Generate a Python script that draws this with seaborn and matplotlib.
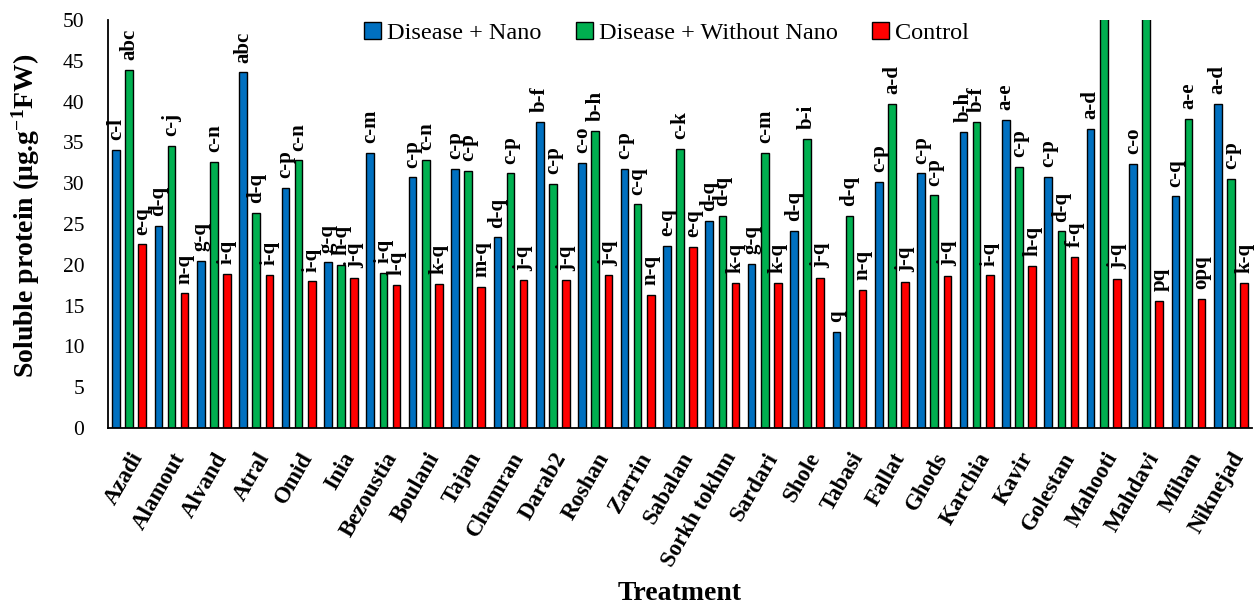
import matplotlib
matplotlib.use("Agg")
import matplotlib.pyplot as plt
import numpy as np
import pandas as pd
import seaborn as sns

cats = ["Azadi", "Alamout", "Alvand", "Atral", "Omid", "Inia", "Bezoustia", "Boulani", "Tajan",
        "Chamran", "Darab2", "Roshan", "Zarrin", "Sabalan", "Sorkh tokhm", "Sardari", "Shole",
        "Tabasi", "Fallat", "Ghods", "Karchia", "Kavir", "Golestan", "Mahooti", "Mahdavi",
        "Mihan", "Niknejad"]

nano = [34.1, 24.8, 20.5, 43.6, 29.4, 20.3, 33.75, 30.7, 31.75, 23.35, 37.5, 32.45, 31.8,
        22.35, 25.4, 20.1, 24.2, 11.8, 30.2, 31.2, 36.3, 37.8, 30.8, 36.7, 32.4, 28.4, 39.7]
without_nano = [43.9, 34.6, 32.6, 26.4, 32.8, 20.0, 19.05, 32.9, 31.55, 31.2, 29.9, 36.4, 27.4,
                34.2, 26.0, 33.75, 35.4, 26.0, 39.7, 28.5, 37.55, 32.0, 24.1, 52.0, 52.0, 37.9, 30.5]
control = [22.5, 16.5, 18.9, 18.8, 17.95, 18.4, 17.55, 17.7, 17.25, 18.1, 18.1, 18.7, 16.3,
           22.2, 17.8, 17.75, 18.4, 16.9, 17.9, 18.6, 18.7, 19.9, 21.0, 18.3, 15.6, 15.8, 17.8]

nano_letters = ["c-l", "d-q", "g-q", "abc", "c-p", "g-q", "c-m", "c-p", "c-p", "d-q", "b-f",
                "c-o", "c-p", "e-q", "d-q", "g-q", "d-q", "q", "c-p", "c-p", "b-h", "a-e",
                "c-p", "a-d", "c-o", "c-q", "a-d"]
without_letters = ["abc", "c-j", "c-n", "d-q", "c-n", "h-q", "i-q", "c-n", "c-p", "c-p", "c-p",
                   "b-h", "c-q", "c-k", "d-q", "c-m", "b-i", "d-q", "a-d", "c-p", "b-f", "c-p",
                   "d-q", "", "", "a-e", "c-p"]
control_letters = ["e-q", "n-q", "i-q", "i-q", "i-q", "j-q", "l-q", "k-q", "m-q", "j-q", "j-q",
                   "j-q", "n-q", "e-q", "k-q", "k-q", "j-q", "n-q", "j-q", "j-q", "i-q", "h-q",
                   "f-q", "j-q", "pq", "opq", "k-q"]

groups = ["Disease + Nano", "Disease + Without Nano", "Control"]
colors = ["#0070C0", "#00B050", "#FF0000"]

sns.set_theme(style="white")
plt.rcParams["font.family"] = ["Liberation Serif", "DejaVu Serif"]
plt.rcParams["mathtext.default"] = "regular"
for k in ["text.color", "axes.labelcolor", "xtick.color", "ytick.color"]:
    plt.rcParams[k] = "black"

n = len(cats)
df = pd.DataFrame({
    "Treatment": cats * 3,
    "value": nano + without_nano + control,
    "Group": [groups[0]] * n + [groups[1]] * n + [groups[2]] * n,
})

fig = plt.figure(figsize=(12.6, 6.07), dpi=100)
ax = fig.add_axes([0.0857, 0.295, 0.908, 0.672])
sns.barplot(data=df, x="Treatment", y="value", hue="Group", hue_order=groups,
            palette=colors, saturation=1, width=0.93, gap=0.42,
            edgecolor="black", linewidth=1.0, ax=ax, errorbar=None)

letters = [nano_letters, without_letters, control_letters]
for cont, labs in zip(ax.containers, letters):
    ax.bar_label(cont, labels=labs, rotation=90, padding=7, fontsize=15,
                 fontweight="bold", color="black")

ax.set_ylim(0, 50)
ax.set_yticks(np.arange(0, 51, 5))
ax.tick_params(axis="y", left=False, labelsize=15.5, pad=11)
ax.tick_params(axis="x", bottom=False, labelsize=16.5, pad=9)
for lab in ax.get_xticklabels():
    lab.set_rotation(60)
    lab.set_ha("right")
    lab.set_rotation_mode("anchor")
    lab.set_fontweight("bold")
for s in ["top", "right"]:
    ax.spines[s].set_visible(False)
for s in ["left", "bottom"]:
    ax.spines[s].set_color("black")
    ax.spines[s].set_linewidth(1.3)

ax.set_ylabel(r"Soluble protein (μg.g$^{-1}$FW)", fontsize=20, fontweight="bold")
ax.yaxis.set_label_coords(-0.058, 0.52)
ax.set_xlabel("Treatment", fontsize=20, fontweight="bold")
ax.xaxis.set_label_coords(0.5, -0.375)

ax.legend(loc="upper center", bbox_to_anchor=(0.488, 1.05), ncol=3, frameon=False,
          fontsize=17.5, handlelength=0.7, handleheight=0.7, handletextpad=0.25,
          columnspacing=1.4)

fig.savefig("out.png", dpi=100)
